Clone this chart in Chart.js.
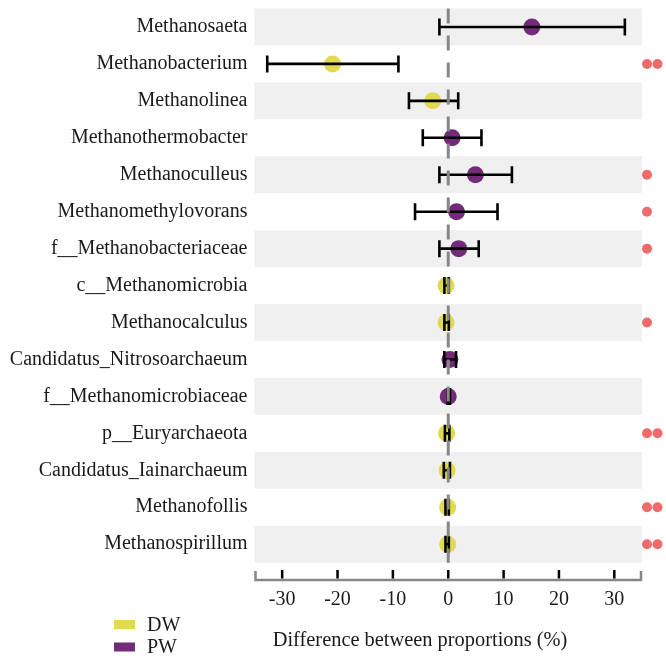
<!DOCTYPE html>
<html>
<head>
<meta charset="utf-8">
<script src="https://cdn.jsdelivr.net/npm/chart.js@4/dist/chart.umd.min.js"></script>
<style>
  html, body { margin: 0; padding: 0; background: #fff; }
  #wrap { width: 666px; height: 656px; }
</style>
</head>
<body>
<div id="wrap"><canvas id="extendedError" width="666" height="656"></canvas></div>
<script>
// ── Data ─────────────────────────────────────────────
var GENERA = [
  'Methanosaeta', 'Methanobacterium', 'Methanolinea', 'Methanothermobacter',
  'Methanoculleus', 'Methanomethylovorans', 'f__Methanobacteriaceae',
  'c__Methanomicrobia', 'Methanocalculus', 'Candidatus_Nitrosoarchaeum',
  'f__Methanomicrobiaceae', 'p__Euryarchaeota', 'Candidatus_Iainarchaeum',
  'Methanofollis', 'Methanospirillum'
];
var GROUP   = ['PW','DW','DW','PW','PW','PW','PW','DW','DW','PW','PW','DW','DW','DW','DW'];
var DIFF    = [15.1, -20.9, -2.8, 0.7, 4.9, 1.5, 1.9, -0.4, -0.4, 0.3, 0.0, -0.3, -0.2, -0.1, -0.1];
var CI_LOW  = [-1.6, -32.7, -7.1, -4.6, -1.6, -6.0, -1.6, -0.7, -0.7, -0.7, -0.1, -0.6, -0.8, -0.5, -0.5];
var CI_HIGH = [31.9, -9.0, 1.8, 6.0, 11.5, 8.9, 5.5, 0.1, 0.1, 1.4, 0.3, 0.2, 0.3, 0.1, 0.1];
var SIGNIF  = ['', '**', '', '', '*', '*', '*', '', '*', '', '', '**', '', '**', '**'];
var X_TICKS = [-30, -20, -10, 0, 10, 20, 30];
var GROUPS  = ['DW', 'PW'];
var X_TITLE = 'Difference between proportions (%)';

// ── Palette ──────────────────────────────────────────
var YELLOW = '#e1da50';
var PURPLE = '#732a78';
var BAND   = '#f0f0f0';
var RED    = '#ef6a6a';
var GREY   = '#878787';
var INK    = '#1a1a1a';
var SERIF  = "'Liberation Serif', 'Times New Roman', serif";
var COLORS = { DW: YELLOW, PW: PURPLE };

function pointsFor(group) {
  var out = [];
  for (var i = 0; i < GENERA.length; i++) {
    if (GROUP[i] === group) out.push({ x: DIFF[i], y: i });
  }
  return out;
}

// bands, error bars, zero line, axis, stars, legend
var decorPlugin = {
  id: 'decor',
  beforeDatasetsDraw: function(chart) {
    var ctx = chart.ctx, a = chart.chartArea, ys = chart.scales.y;
    ctx.save();
    ctx.fillStyle = BAND;
    for (var i = 0; i < GENERA.length; i += 2) {
      var t = ys.getPixelForValue(i - 0.5), b = ys.getPixelForValue(i + 0.5);
      ctx.fillRect(a.left, t, a.right - a.left, b - t);
    }
    ctx.restore();
  },
  afterDatasetsDraw: function(chart) {
    var ctx = chart.ctx, a = chart.chartArea;
    var xs = chart.scales.x, ys = chart.scales.y;
    ctx.save();
    // error bars
    ctx.strokeStyle = '#000';
    ctx.lineWidth = 2.6;
    for (var i = 0; i < GENERA.length; i++) {
      var y = ys.getPixelForValue(i);
      var x0 = xs.getPixelForValue(CI_LOW[i]), x1 = xs.getPixelForValue(CI_HIGH[i]);
      ctx.beginPath();
      ctx.moveTo(x0, y); ctx.lineTo(x1, y);
      ctx.moveTo(x0, y - 8.5); ctx.lineTo(x0, y + 8.5);
      ctx.moveTo(x1, y - 8.5); ctx.lineTo(x1, y + 8.5);
      ctx.stroke();
    }
    // zero line
    var x0p = xs.getPixelForValue(0);
    ctx.strokeStyle = GREY;
    ctx.lineWidth = 3;
    ctx.setLineDash([15, 12]);
    ctx.beginPath();
    ctx.moveTo(x0p, a.top);
    ctx.lineTo(x0p, ys.getPixelForValue(GENERA.length - 0.5));
    ctx.stroke();
    ctx.restore();
  },
  afterDraw: function(chart) {
    var ctx = chart.ctx, a = chart.chartArea;
    var xs = chart.scales.x, ys = chart.scales.y;
    ctx.save();
    // axis line with raised ends
    var base = a.bottom;
    ctx.strokeStyle = GREY;
    ctx.lineWidth = 2.5;
    ctx.beginPath();
    ctx.moveTo(a.left + 1, base - 9);
    ctx.lineTo(a.left + 1, base);
    ctx.lineTo(a.right - 1, base);
    ctx.lineTo(a.right - 1, base - 9);
    ctx.stroke();
    ctx.strokeStyle = '#000';
    ctx.beginPath();
    X_TICKS.forEach(function(v) {
      var x = xs.getPixelForValue(v);
      ctx.moveTo(x, base - 10); ctx.lineTo(x, base - 1.5);
    });
    ctx.stroke();
    // significance marks
    ctx.fillStyle = RED;
    for (var i = 0; i < SIGNIF.length; i++) {
      var y = ys.getPixelForValue(i);
      for (var k = 0; k < SIGNIF[i].length; k++) {
        ctx.beginPath();
        ctx.arc(a.right + 5 + k * 10.5, y, 5, 0, Math.PI * 2);
        ctx.fill();
      }
    }
    // axis title and legend
    ctx.font = '20.4px ' + SERIF;
    ctx.textBaseline = 'middle';
    ctx.textAlign = 'center';
    ctx.fillStyle = INK;
    ctx.fillText(X_TITLE, 420, 641);
    ctx.font = '20px ' + SERIF;
    ctx.textAlign = 'left';
    GROUPS.forEach(function(g, j) {
      var cy = 624.5 + j * 22.5;
      ctx.fillStyle = COLORS[g];
      ctx.fillRect(114, cy - 4.5, 21, 9);
      ctx.fillStyle = INK;
      ctx.fillText(g, 147, cy + 1);
    });
    ctx.restore();
  }
};

new Chart(document.getElementById('extendedError'), {
  type: 'scatter',
  data: {
    datasets: GROUPS.map(function(g) {
      return {
        label: g,
        data: pointsFor(g),
        backgroundColor: COLORS[g],
        borderWidth: 0,
        pointRadius: 8.5,
        pointHoverRadius: 8.5
      };
    })
  },
  options: {
    responsive: false,
    animation: false,
    layout: { padding: { left: 0, right: 24, top: 6, bottom: 0 } },
    plugins: {
      legend: { display: false },
      tooltip: { enabled: false }
    },
    scales: {
      x: {
        type: 'linear',
        min: -35, max: 35,
        grid: { display: false, drawTicks: false },
        border: { display: false },
        afterBuildTicks: function(axis) {
          axis.ticks = X_TICKS.map(function(v) { return { value: v }; });
        },
        afterFit: function(axis) {
          axis.height = 76;
          axis.paddingLeft = 0;
          axis.paddingRight = 0;
        },
        ticks: {
          color: INK,
          padding: 8,
          font: { family: SERIF, size: 20 }
        }
      },
      y: {
        type: 'linear',
        reverse: true,
        min: -0.5, max: 14.97,
        grid: { display: false, drawTicks: false },
        border: { display: false },
        afterBuildTicks: function(axis) {
          axis.ticks = GENERA.map(function(g, i) { return { value: i }; });
        },
        afterFit: function(axis) {
          axis.width = 254.5;
          axis.paddingTop = 0;
          axis.paddingBottom = 0;
        },
        ticks: {
          color: INK,
          padding: 7,
          font: { family: SERIF, size: 20 },
          callback: function(v) { return GENERA[v]; }
        }
      }
    }
  },
  plugins: [decorPlugin]
});
</script>
</body>
</html>
